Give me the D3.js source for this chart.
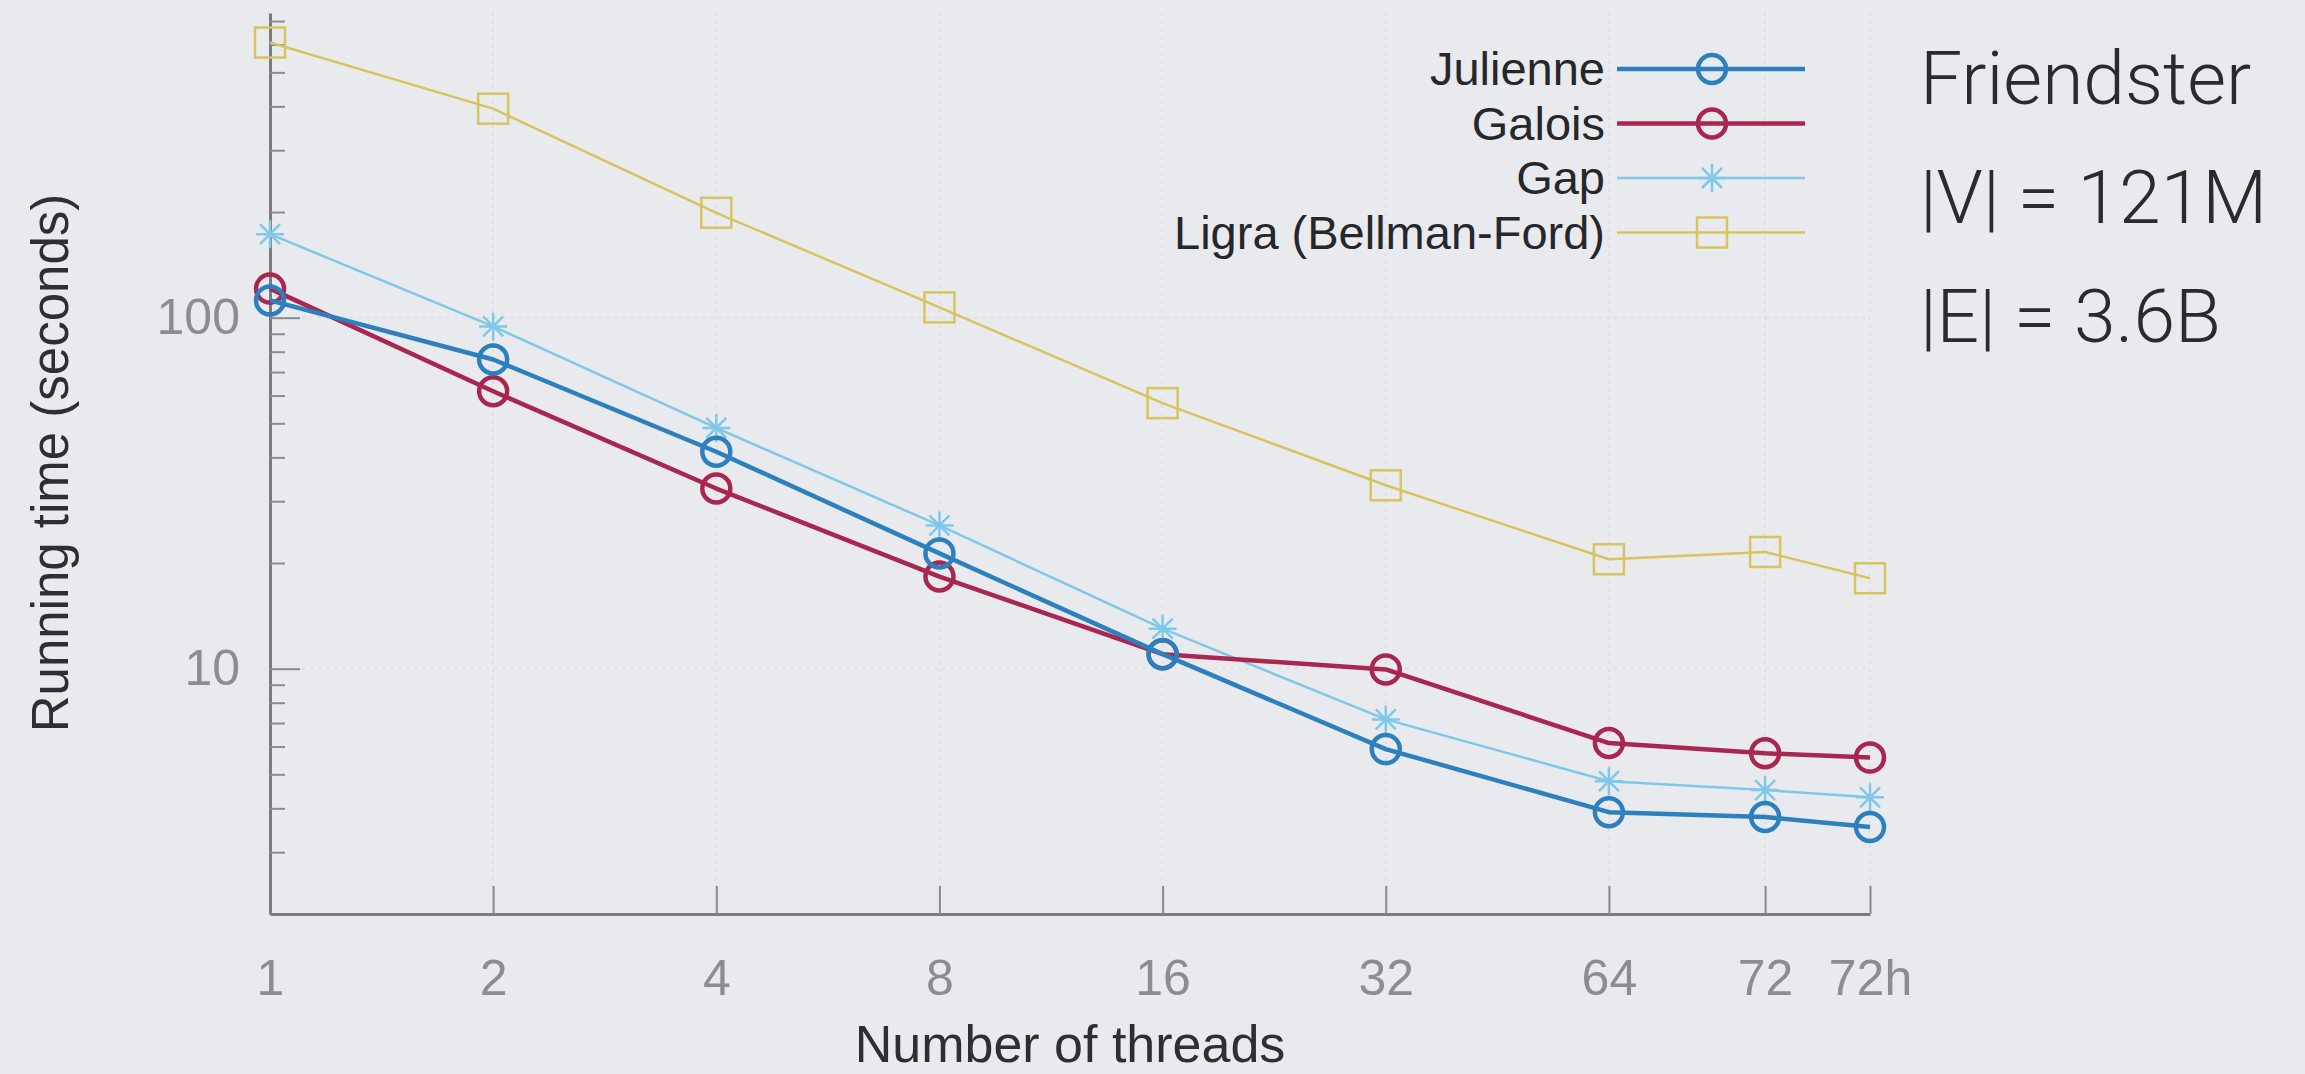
<!DOCTYPE html>
<html>
<head>
<meta charset="utf-8">
<script src="https://cdn.jsdelivr.net/npm/d3@7"></script>
<style>
  html, body { margin: 0; padding: 0; background: #e9eaee; }
  svg { display: block; }
  text { font-family: "Liberation Sans", Arial, Helvetica, sans-serif; }
</style>
</head>
<body>
<div id="chart"></div>
<script>
// thread counts on the x axis, and the x value each one is plotted at
var threads = ["1", "2", "4", "8", "16", "32", "64", "72", "72h"];
var threadSlot = [0, 1, 2, 3, 4, 5, 6, 6.7, 7.17];

var seriesNames = ["Julienne", "Galois", "Gap", "Ligra (Bellman-Ford)"];
var julienne = [112, 76, 41.5, 21.3, 11.0, 5.9, 3.9, 3.78, 3.54];
var galois   = [121, 61.7, 32.6, 18.3, 11.0, 9.95, 6.14, 5.74, 5.58];
var gap      = [173, 94.4, 48.5, 25.6, 13.0, 7.17, 4.78, 4.51, 4.30];
var ligra    = [608, 394, 199, 107, 57.1, 33.3, 20.5, 21.5, 18.1];

var yMajorTicks = [10, 100];
var yMinorTicks = [3, 4, 5, 6, 7, 8, 9, 20, 30, 40, 50, 60, 70, 80, 90, 200, 300, 400, 500, 600, 700];

var infoLines = ["Friendster", "|V| = 121M", "|E| = 3.6B"];

var W = 2305, H = 1074;
var svg = d3.select("#chart").append("svg").attr("width", W).attr("height", H);

var x = d3.scaleLinear().domain([0, 7.17]).range([270, 1870]);
var y = d3.scaleLog().domain([2, 738]).range([914, 13]);

// faint grid
var grid = svg.append("g");
grid.selectAll(".vg").data(threadSlot.slice(1)).enter().append("line")
  .attr("x1", d => x(d)).attr("x2", d => x(d))
  .attr("y1", y.range()[1]).attr("y2", y.range()[0])
  .attr("stroke", "#dfe0e5").attr("stroke-width", 2).attr("stroke-dasharray", "3,5");
grid.selectAll(".hg").data(yMajorTicks).enter().append("line")
  .attr("x1", x.range()[0]).attr("x2", x.range()[1])
  .attr("y1", d => y(d)).attr("y2", d => y(d))
  .attr("stroke", "#dfe0e5").attr("stroke-width", 2).attr("stroke-dasharray", "3,5");

// axes, ticks pointing inside like gnuplot
var xAxis = d3.axisBottom(x)
  .tickValues(threadSlot)
  .tickFormat((d, i) => threads[i])
  .tickSizeInner(-28).tickSizeOuter(0).tickPadding(45);
var gx = svg.append("g").attr("transform", "translate(0,914)").call(xAxis);

var yAxis = d3.axisLeft(y)
  .tickValues(yMajorTicks)
  .tickFormat(d3.format("d"))
  .tickSizeInner(-30).tickSizeOuter(0).tickPadding(30);
var gy = svg.append("g").attr("transform", "translate(270,0)").call(yAxis);

var yMinor = d3.axisLeft(y).tickValues(yMinorTicks).tickFormat("")
  .tickSizeInner(-15).tickSizeOuter(0);
var gym = svg.append("g").attr("transform", "translate(270,0)").call(yMinor);
gym.select(".domain").remove();

[gx, gy, gym].forEach(function(g) {
  g.select(".domain").attr("stroke", "#7a7b80").attr("stroke-width", 3);
  g.selectAll(".tick line").attr("stroke", "#8a8b90").attr("stroke-width", 2);
  g.selectAll(".tick text").attr("fill", "#8c8d92").style("font-size", "50px");
});

// axis titles
svg.append("text")
  .attr("x", 1070).attr("y", 1062)
  .attr("text-anchor", "middle")
  .style("font-size", "52px").attr("fill", "#2e2f33")
  .text("Number of threads");
svg.append("text")
  .attr("transform", "translate(68,463) rotate(-90)")
  .attr("text-anchor", "middle")
  .style("font-size", "51px").attr("fill", "#2e2f33")
  .text("Running time (seconds)");

// series
var series = [
  {name: seriesNames[0], values: julienne, color: "#2b80bd", width: 4.5, marker: "circle"},
  {name: seriesNames[1], values: galois,   color: "#a8264f", width: 4.5, marker: "circle"},
  {name: seriesNames[2], values: gap,      color: "#7fc8e8", width: 2.5, marker: "star"},
  {name: seriesNames[3], values: ligra,    color: "#d7c45e", width: 2.5, marker: "square"}
];

var line = d3.line()
  .x((d, i) => x(threadSlot[i]))
  .y(d => y(d));

function drawMarker(g, kind, color, width) {
  if (kind === "circle") {
    g.append("circle").attr("r", 14).attr("fill", "none")
      .attr("stroke", color).attr("stroke-width", width);
  } else if (kind === "square") {
    g.append("rect").attr("x", -15).attr("y", -15).attr("width", 30).attr("height", 30)
      .attr("fill", "none").attr("stroke", color).attr("stroke-width", width);
  } else {
    g.append("path").attr("d", "M-14,0H14M0,-14V14M-10,-10L10,10M-10,10L10,-10")
      .attr("fill", "none").attr("stroke", color).attr("stroke-width", width);
  }
}

// draw back to front: ligra, gap, galois, julienne
series.slice().reverse().forEach(function(s) {
  svg.append("path")
    .datum(s.values)
    .attr("d", line)
    .attr("fill", "none")
    .attr("stroke", s.color)
    .attr("stroke-width", s.width)
    .attr("stroke-linejoin", "round");
  s.values.forEach(function(v, i) {
    var g = svg.append("g").attr("transform", "translate(" + x(threadSlot[i]) + "," + y(v) + ")");
    drawMarker(g, s.marker, s.color, s.width);
  });
});

// legend
var legend = svg.append("g");
series.forEach(function(s, i) {
  var ly = 69 + i * 54.5;
  legend.append("text")
    .attr("x", 1605).attr("y", ly).attr("dy", "0.35em")
    .attr("text-anchor", "end")
    .style("font-size", "47px").attr("fill", "#26272b")
    .text(s.name);
  legend.append("line")
    .attr("x1", 1617).attr("x2", 1805).attr("y1", ly).attr("y2", ly)
    .attr("stroke", s.color).attr("stroke-width", s.width);
  var g = legend.append("g").attr("transform", "translate(1712," + ly + ")");
  drawMarker(g, s.marker, s.color, s.width);
});

// graph info
infoLines.forEach(function(t, i) {
  svg.append("text")
    .attr("x", 1920).attr("y", 104 + i * 119)
    .style("font-size", "75px").style("font-weight", 300)
    .style("font-family", "Roboto, 'Liberation Sans', sans-serif")
    .attr("fill", "#2a2b2f")
    .text(t);
});
</script>
</body>
</html>
